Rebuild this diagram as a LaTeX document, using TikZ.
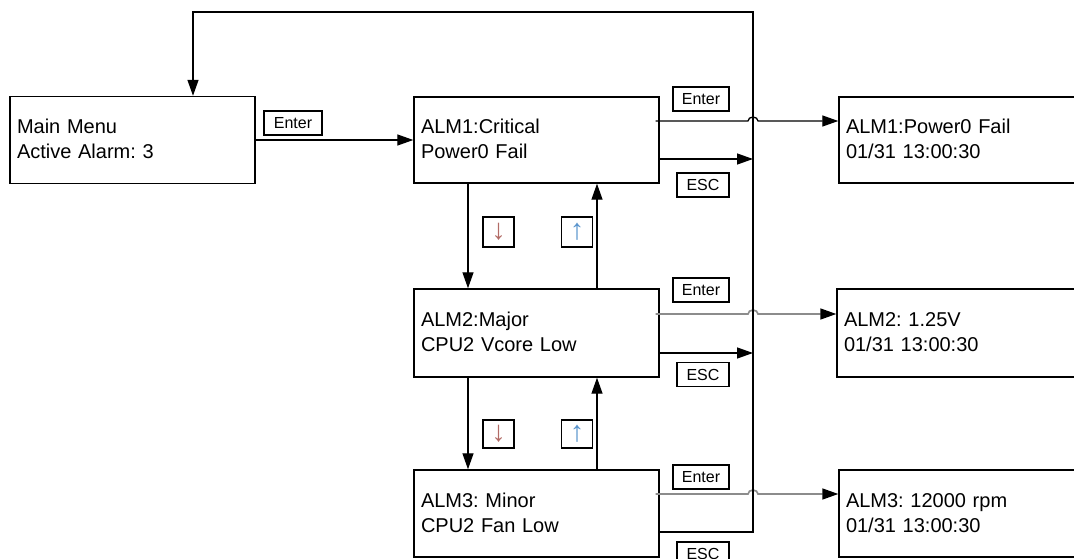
\documentclass[tikz,border=0pt]{standalone}
\usepackage{fontspec}
\setmainfont{Liberation Sans}
\usetikzlibrary{calc,arrows.meta}
\definecolor{dncol}{rgb}{0.70,0.42,0.40}
\definecolor{upcol}{rgb}{0.35,0.58,0.80}
\definecolor{lgray}{rgb}{0.55,0.55,0.55}
\newcommand\bxs{\rule[-5pt]{0pt}{22pt}}
\frenchspacing
\begin{document}
\frenchspacing
\begin{tikzpicture}[x=1pt,y=-1pt,
  box/.style={draw,line width=1.4pt,inner xsep=7pt,inner ysep=0pt,align=left,
    font=\fontsize{20}{25}\selectfont\frenchspacing},
  mbox/.style={box,text width=231pt},
  rbox/.style={box,text width=246pt},
  key/.style={draw,line width=1.1pt,inner sep=0pt,minimum height=24pt,
    font=\fontsize{16}{16}\selectfont},
  akey/.style={draw,line width=1.1pt,inner sep=0pt,minimum width=31pt,
    font=\fontsize{29}{29}\selectfont},
  conn/.style={line width=1.3pt},
  arr/.style={conn,-{Triangle[length=16pt,width=11pt,color=black]}},
  garr/.style={arr,draw=lgray,line width=1.6pt}]
\useasboundingbox (0,0) rectangle (1074,559);
\clip (0,0) rectangle (1074,559);
% boxes
\node[mbox,minimum height=87pt] (main) at (132.5,140) {\bxs Main Menu\\\bxs Active Alarm: 3};
\node[mbox,minimum height=86pt] (a1) at (536.5,140) {\bxs ALM1:Critical\\\bxs Power0 Fail};
\node[mbox,minimum height=88pt] (a2) at (536.5,333) {\bxs ALM2:Major\\\bxs CPU2 Vcore Low};
\node[mbox,minimum height=87pt] (a3) at (536.5,513.5) {\bxs ALM3: Minor\\\bxs CPU2 Fan Low};
\node[rbox,minimum height=86pt] (r1) at (969,140) {\bxs ALM1:Power0 Fail\\\bxs 01/31 13:00:30};
\node[rbox,minimum height=88pt] (r2) at (967,333) {\bxs ALM2: 1.25V\\\bxs 01/31 13:00:30};
\node[rbox,minimum height=87pt] (r3) at (969,513.5) {\bxs ALM3: 12000 rpm\\\bxs 01/31 13:00:30};
% key labels
\node[key,minimum width=58pt] (kmain) at (293,123) {Enter};
\node[key,minimum width=56pt] (ke1) at (701,99) {Enter};
\node[key,minimum width=52pt] (ks1) at (703,185) {ESC};
\node[key,minimum width=56pt] (ke2) at (701,290) {Enter};
\node[key,minimum width=52pt] (ks2) at (703,374.5) {ESC};
\node[key,minimum width=56pt] (ke3) at (701,477) {Enter};
\node[key,minimum width=52pt] (ks3) at (703,554) {ESC};
\node[akey,minimum height=30pt,text=dncol] (d1) at (498.5,232) {↓};
\node[akey,minimum height=30pt,text=upcol] (u1) at (577,232) {↑};
\node[akey,minimum height=28pt,text=dncol] (d2) at (498.5,434) {↓};
\node[akey,minimum height=28pt,text=upcol] (u2) at (577,434) {↑};
% bus
\coordinate (bustop) at (753,12);
% main -> a1
\draw[arr] (main.east) -- (main.east -| a1.west);
% down / up
\draw[arr] ($(a1.south)+(-68.5,0)$) -- ($(a2.north)+(-68.5,0)$);
\draw[arr] ($(a2.north)+(60.5,0)$) -- ($(a1.south)+(60.5,0)$);
\draw[arr] ($(a2.south)+(-68.5,0)$) -- ($(a3.north)+(-68.5,0)$);
\draw[arr] ($(a3.north)+(60.5,0)$) -- ($(a2.south)+(60.5,0)$);
% enter lines with hops
\path ($(a1.east)+(-4,-19)$) coordinate (e1s) ($(r1.west)+(0,-19)$) coordinate (e1t);
\draw[arr] (e1s) -- ($(e1s -| bustop)+(-5,0)$) arc[start angle=180,end angle=360,x radius=5,y radius=4] -- (e1t);
\path ($(a2.east)+(-4,-19)$) coordinate (e2s) ($(r2.west)+(0,-19)$) coordinate (e2t);
\draw[garr] (e2s) -- ($(e2s -| bustop)+(-5,0)$) arc[start angle=180,end angle=360,x radius=5,y radius=4] -- (e2t);
\path ($(a3.east)+(-4,-19.5)$) coordinate (e3s) ($(r3.west)+(0,-19.5)$) coordinate (e3t);
\draw[garr] (e3s) -- ($(e3s -| bustop)+(-5,0)$) arc[start angle=180,end angle=360,x radius=5,y radius=4] -- (e3t);
% ESC lines
\draw[arr] ($(a1.east)+(0,19)$) coordinate (s1) -- (s1 -| bustop);
\draw[arr] ($(a2.east)+(0,20)$) coordinate (s2) -- (s2 -| bustop);
\draw[arr] ($(a3.east)+(0,18.5)$) -| (bustop) -| ($(main.north)+(60.5,0)$);
\end{tikzpicture}
\end{document}
